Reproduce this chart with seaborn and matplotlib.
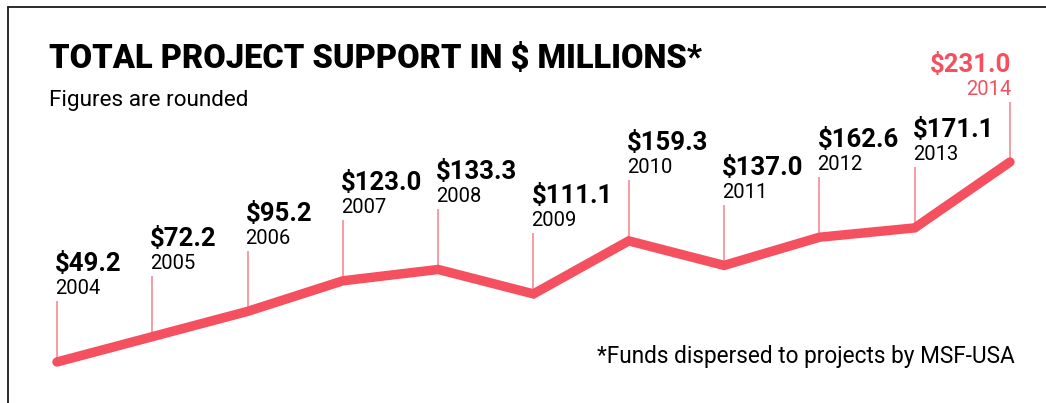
import matplotlib
matplotlib.use("Agg")
import matplotlib.pyplot as plt
from matplotlib.lines import Line2D
import seaborn as sns

years = [2004, 2005, 2006, 2007, 2008, 2009, 2010, 2011, 2012, 2013, 2014]
values = [49.2, 72.2, 95.2, 123.0, 133.3, 111.1, 159.3, 137.0, 162.6, 171.1, 231.0]
value_labels = ["$49.2", "$72.2", "$95.2", "$123.0", "$133.3", "$111.1",
                "$159.3", "$137.0", "$162.6", "$171.1", "$231.0"]

RED = "#F4505F"
PINK = "#F5818A"
W, H = 1046, 403

sns.set_theme(style="white")
plt.rcParams['font.family'] = ['Roboto', 'DejaVu Sans']

fig = plt.figure(figsize=(W / 100, H / 100), dpi=100)
ax = fig.add_axes([0, 0, 1, 1])

# thin stems from each point up to its label
stem = 55
ax.vlines(years, values, [v + stem for v in values], color=PINK, linewidth=1.1)

sns.lineplot(x=years, y=values, ax=ax, color=RED, linewidth=6.8,
             solid_capstyle="round", solid_joinstyle="miter")

for i, (yr, v, lab) in enumerate(zip(years, values, value_labels)):
    last = i == len(years) - 1
    col = RED if last else "black"
    ha = "right" if last else "left"
    dx = 1 if last else -2
    ax.annotate(str(yr), (yr, v + stem), xytext=(dx, 7), textcoords="offset pixels",
                ha=ha, va="baseline", fontsize=14.5, color=col)
    ax.annotate(lab, (yr, v + stem), xytext=(dx, 30), textcoords="offset pixels",
                ha=ha, va="baseline", fontsize=18.5, fontweight="bold", color=col)

ax.set_xlim(2003.402, 2014.378)
ax.set_ylim(11.9, 378.3)
ax.axis("off")

# titles
fig.text(49 / W, 1 - 68 / H, "TOTAL PROJECT SUPPORT IN $ MILLIONS*", ha="left",
         va="baseline", fontsize=23.5, fontweight="black", color="black")
fig.text(49 / W, 1 - 106 / H, "Figures are rounded", ha="left", va="baseline",
         fontsize=16.2, color="black")
fig.text(1015 / W, 1 - 363 / H, "*Funds dispersed to projects by MSF-USA",
         ha="right", va="baseline", fontsize=16.3, color="black")

# frame: top and left only
fig.add_artist(Line2D([8 / W, 1], [1 - 7 / H, 1 - 7 / H], color="#1a1a1a",
                      linewidth=1.3, transform=fig.transFigure))
fig.add_artist(Line2D([8 / W, 8 / W], [0, 1 - 7 / H], color="#1a1a1a",
                      linewidth=1.3, transform=fig.transFigure))

fig.savefig("out.png", dpi=100)
